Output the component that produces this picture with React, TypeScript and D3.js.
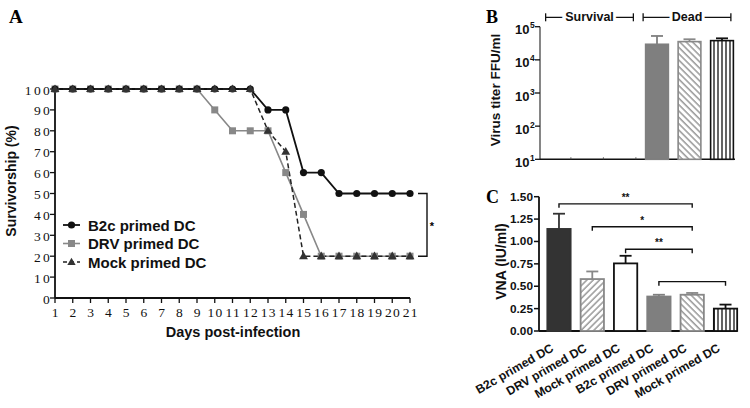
import React from 'react';
import * as d3 from 'd3';

// ---------- Panel A data ----------
const days = [1, 2, 3, 4, 5, 6, 7, 8, 9, 10, 11, 12, 13, 14, 15, 16, 17, 18, 19, 20, 21];
const b2c = [100, 100, 100, 100, 100, 100, 100, 100, 100, 100, 100, 100, 90, 90, 60, 60, 50, 50, 50, 50, 50];
const drv = [100, 100, 100, 100, 100, 100, 100, 100, 100, 90, 80, 80, 80, 60, 40, 20, 20, 20, 20, 20, 20];
const mock = [100, 100, 100, 100, 100, 100, 100, 100, 100, 100, 100, 100, 80, 70, 20, 20, 20, 20, 20, 20, 20];
const survTicks = [0, 10, 20, 30, 40, 50, 60, 70, 80, 90, 100];
const seriesNames = ['B2c primed DC', 'DRV primed DC', 'Mock primed DC'];
const survSig = { top: 50, bottom: 20, label: '*' };

// ---------- Panel B data ----------
const titerCats = ['S-B2c', 'S-DRV', 'S-Mock', 'D-B2c', 'D-DRV', 'D-Mock'];
const titerMean: (number | null)[] = [null, null, null, 29500, 35500, 38000];
const titerUpper: (number | null)[] = [null, null, null, 52500, 41800, 44600];
const titerTicks = [10, 100, 1000, 10000, 100000];
const titerExp = ['1', '2', '3', '4', '5'];
const titerGroups = [
  { label: 'Survival', first: 'S-B2c', last: 'S-Mock' },
  { label: 'Dead', first: 'D-B2c', last: 'D-Mock' },
];

// ---------- Panel C data ----------
const vnaCats = ['c1', 'c2', 'c3', 'c4', 'c5', 'c6'];
const vnaLabels = ['B2c primed DC', 'DRV primed DC', 'Mock primed DC', 'B2c primed DC', 'DRV primed DC', 'Mock primed DC'];
const vnaMean = [1.14, 0.58, 0.755, 0.385, 0.405, 0.25];
const vnaUpper = [1.31, 0.665, 0.84, 0.405, 0.425, 0.295];
const vnaTicks = [0, 0.25, 0.5, 0.75, 1.0, 1.25, 1.5];
const vnaSig = [
  { a: 0, b: 4, y: 1.42, label: '**' },
  { a: 1, b: 4, y: 1.165, label: '*' },
  { a: 2, b: 4, y: 0.913, label: '**' },
  { a: 3, b: 5, y: 0.551, label: '' },
];

const SANS = '"Liberation Sans", Arial, sans-serif';
const SERIF = '"Liberation Serif", "Times New Roman", serif';

type BarStyle = { fill: string; stroke: string; err: string };
const styleSolidDark: BarStyle = { fill: '#333', stroke: '#333', err: '#333' };
const styleSolidGray: BarStyle = { fill: '#7f7f7f', stroke: '#7f7f7f', err: '#7f7f7f' };
const styleHatchF: BarStyle = { fill: 'url(#hatchF)', stroke: '#888', err: '#888' };
const styleHatchB: BarStyle = { fill: 'url(#hatchB)', stroke: '#888', err: '#888' };
const styleWhite: BarStyle = { fill: '#fff', stroke: '#111', err: '#111' };
const styleStripes: BarStyle = { fill: 'url(#stripes)', stroke: '#111', err: '#111' };

export default function App() {
  // ---------- Panel A ----------
  const xA = d3.scaleLinear().domain([1, 21]).range([55, 410]);
  const yA = d3.scaleLinear().domain([0, 100]).range([298, 89]);
  const lineA = d3
    .line<number>()
    .x((_, i) => xA(days[i]))
    .y((d) => yA(d));
  const tri = d3.symbol().type(d3.symbolTriangle).size(34)() as string;
  const triLegend = d3.symbol().type(d3.symbolTriangle).size(30)() as string;

  // ---------- Panel B ----------
  const xB = d3.scaleBand<string>().domain(titerCats).range([540, 741.5]).paddingInner(0.3).paddingOuter(0.25);
  const yB = d3.scaleLog().domain([10, 100000]).range([159.3, 26.7]);
  const bwB = xB.bandwidth();
  const titerStyles = [styleSolidGray, styleHatchB, styleStripes];

  // ---------- Panel C ----------
  const xC = d3.scaleBand<string>().domain(vnaCats).range([539, 745.5]).paddingInner(0.3).paddingOuter(0.25);
  const yC = d3.scaleLinear().domain([0, 1.5]).range([331, 196.7]);
  const bwC = xC.bandwidth();
  const vnaStyles = [styleSolidDark, styleHatchF, styleWhite, styleSolidGray, styleHatchB, styleStripes];

  return (
    <svg
      width={750}
      height={408}
      style={{ position: 'absolute', left: 0, top: 0, background: '#fff' }}
      xmlns="http://www.w3.org/2000/svg"
    >
      <defs>
        <pattern id="hatchF" patternUnits="userSpaceOnUse" width={4.5} height={4.5} patternTransform="rotate(45)">
          <rect width={4.5} height={4.5} fill="#fff" />
          <line x1={1} y1={0} x2={1} y2={4.5} stroke="#888" strokeWidth={1.3} />
        </pattern>
        <pattern id="hatchB" patternUnits="userSpaceOnUse" width={4.5} height={4.5} patternTransform="rotate(-45)">
          <rect width={4.5} height={4.5} fill="#fff" />
          <line x1={1} y1={0} x2={1} y2={4.5} stroke="#888" strokeWidth={1.3} />
        </pattern>
        <pattern id="stripes" patternUnits="userSpaceOnUse" width={4} height={4}>
          <rect width={4} height={4} fill="#fff" />
          <line x1={2} y1={0} x2={2} y2={4} stroke="#111" strokeWidth={1.3} />
        </pattern>
      </defs>
      <rect width={750} height={408} fill="#fff" />

      {/* ================= Panel A ================= */}
      <text x={9} y={23} fontFamily={SERIF} fontWeight="bold" fontSize={19}>A</text>

      <line x1={xA(1)} x2={xA(21)} y1={yA(0)} y2={yA(0)} stroke="#111" strokeWidth={1.8} />
      <line x1={xA(1)} x2={xA(1)} y1={yA(0)} y2={yA(100)} stroke="#111" strokeWidth={1.8} />
      {survTicks.map((t) => (
        <g key={'ya' + t}>
          <line x1={xA(1) - 5} x2={xA(1)} y1={yA(t)} y2={yA(t)} stroke="#111" strokeWidth={1.3} />
          <text
            x={xA(1) - 3}
            y={yA(t) + 1}
            textAnchor="end"
            dominantBaseline="central"
            fontFamily={SERIF}
            fontSize={13.5}
            letterSpacing={2.3}
            fill="#111"
          >
            {t}
          </text>
        </g>
      ))}
      {days.map((d) => (
        <g key={'xa' + d}>
          <line x1={xA(d)} x2={xA(d)} y1={yA(0)} y2={yA(0) + 5} stroke="#111" strokeWidth={1.3} />
          <text
            x={xA(d) + 0.8}
            y={316.5}
            textAnchor="middle"
            fontFamily={SERIF}
            fontSize={13.5}
            letterSpacing={1.2}
            fill="#111"
          >
            {d}
          </text>
        </g>
      ))}
      <text x={233} y={337} textAnchor="middle" fontFamily={SANS} fontWeight="bold" fontSize={14.5} fill="#111">
        Days post-infection
      </text>
      <text
        transform={`translate(16,${181}) rotate(-90)`}
        textAnchor="middle"
        fontFamily={SANS}
        fontWeight="bold"
        fontSize={14}
        fill="#111"
      >
        Survivorship (%)
      </text>

      <path d={lineA(drv) as string} fill="none" stroke="#888" strokeWidth={1.6} />
      <path d={lineA(b2c) as string} fill="none" stroke="#111" strokeWidth={1.8} />
      <path d={lineA(mock) as string} fill="none" stroke="#222" strokeWidth={1.5} strokeDasharray="5,3" />
      {drv.map((v, i) => (
        <rect key={'sq' + i} x={xA(days[i]) - 3.5} y={yA(v) - 3.5} width={7} height={7} fill="#888" />
      ))}
      {b2c.map((v, i) => (
        <circle key={'ci' + i} cx={xA(days[i])} cy={yA(v)} r={3.6} fill="#111" />
      ))}
      {mock.map((v, i) => (
        <path key={'tr' + i} d={tri} transform={`translate(${xA(days[i])},${yA(v) + 0.5})`} fill="#333" />
      ))}

      <path
        d={`M${xA(21) + 8},${yA(survSig.top)} H${xA(21) + 17} V${yA(survSig.bottom)} H${xA(21) + 8}`}
        fill="none"
        stroke="#111"
        strokeWidth={1.4}
      />
      <text
        x={xA(21) + 22}
        y={yA((survSig.top + survSig.bottom) / 2) + 5}
        textAnchor="middle"
        fontFamily={SANS}
        fontWeight="bold"
        fontSize={11}
        fill="#000"
      >
        {survSig.label}
      </text>

      {seriesNames.map((name, i) => {
        const y = 225 + i * 18.5;
        return (
          <g key={'lg' + i}>
            {i === 0 && (
              <>
                <line x1={63} x2={80} y1={y} y2={y} stroke="#111" strokeWidth={1.8} />
                <circle cx={71.5} cy={y} r={3.6} fill="#111" />
              </>
            )}
            {i === 1 && (
              <>
                <line x1={63} x2={80} y1={y} y2={y} stroke="#888" strokeWidth={1.6} />
                <rect x={68} y={y - 3.5} width={7} height={7} fill="#888" />
              </>
            )}
            {i === 2 && (
              <>
                <line x1={63} x2={80} y1={y} y2={y} stroke="#222" strokeWidth={1.5} strokeDasharray="4,3" />
                <path d={triLegend} transform={`translate(71.5,${y + 0.5})`} fill="#333" />
              </>
            )}
            <text x={88} y={y} dominantBaseline="central" fontFamily={SANS} fontWeight="bold" fontSize={15} fill="#111">
              {name}
            </text>
          </g>
        );
      })}

      {/* ================= Panel B ================= */}
      <text x={486} y={23} fontFamily={SERIF} fontWeight="bold" fontSize={18}>B</text>
      <line x1={540} x2={540} y1={yB(10)} y2={yB(100000)} stroke="#444" strokeWidth={1.3} />
      <line x1={540} x2={735} y1={yB(10)} y2={yB(10)} stroke="#111" strokeWidth={1.6} />
      {titerTicks.map((t, i) => (
        <g key={'yb' + t}>
          <line x1={535} x2={540} y1={yB(t)} y2={yB(t)} stroke="#111" strokeWidth={1.3} />
          <text x={529.5} y={yB(t) + 3} textAnchor="end" dominantBaseline="central" fontFamily={SANS} fontWeight="bold" fontSize={13} fill="#111">
            10
          </text>
          <text x={530} y={yB(t) - 1.5} textAnchor="start" dominantBaseline="central" fontFamily={SANS} fontWeight="bold" fontSize={8.5} fill="#111">
            {titerExp[i]}
          </text>
        </g>
      ))}
      {titerCats.slice(0, 3).map((c) => (
        <line key={'tk' + c} x1={(xB(c) as number) + bwB} x2={(xB(c) as number) + bwB} y1={yB(10)} y2={yB(10) - 2} stroke="#555" strokeWidth={1} />
      ))}
      {titerCats.map((c, i) => {
        const v = titerMean[i];
        const u = titerUpper[i];
        if (v == null || u == null) return null;
        const s = titerStyles[i % 3];
        const x0 = xB(c) as number;
        const cx = x0 + bwB / 2;
        return (
          <g key={'bb' + c}>
            <line x1={cx} x2={cx} y1={yB(v)} y2={yB(u)} stroke={s.err} strokeWidth={1.8} />
            <line x1={cx - 6} x2={cx + 6} y1={yB(u)} y2={yB(u)} stroke={s.err} strokeWidth={1.8} />
            <rect x={x0} y={yB(v)} width={bwB} height={yB(10) - yB(v)} fill={s.fill} stroke={s.stroke} strokeWidth={1.6} />
          </g>
        );
      })}
      {titerGroups.map((g) => {
        const x1 = (xB(g.first) as number) - 2.5;
        const x2 = (xB(g.last) as number) + bwB - 2.5;
        const y = 17.3;
        return (
          <g key={'gr' + g.label}>
            <line x1={x1} x2={x2} y1={y} y2={y} stroke="#111" strokeWidth={1.3} />
            <line x1={x1} x2={x1} y1={y - 4} y2={y + 4} stroke="#111" strokeWidth={1.3} />
            <line x1={x2} x2={x2} y1={y - 4} y2={y + 4} stroke="#111" strokeWidth={1.3} />
            <text
              x={(x1 + x2) / 2}
              y={y}
              textAnchor="middle"
              dominantBaseline="central"
              fontFamily={SANS}
              fontWeight="bold"
              fontSize={12.5}
              fill="#111"
              stroke="#fff"
              strokeWidth={6}
              paintOrder="stroke"
            >
              {g.label}
            </text>
          </g>
        );
      })}
      <text
        transform={`translate(500,90) rotate(-90)`}
        textAnchor="middle"
        fontFamily={SANS}
        fontWeight="bold"
        fontSize={13.5}
        fill="#111"
      >
        Virus titer FFU/ml
      </text>

      {/* ================= Panel C ================= */}
      <text x={486} y={203} fontFamily={SERIF} fontWeight="bold" fontSize={18}>C</text>
      <line x1={539} x2={539} y1={yC(0)} y2={yC(1.5)} stroke="#111" strokeWidth={1.8} />
      <line x1={539} x2={737} y1={yC(0)} y2={yC(0)} stroke="#111" strokeWidth={1.8} />
      {vnaTicks.map((t) => (
        <g key={'yc' + t}>
          <line x1={534} x2={539} y1={yC(t)} y2={yC(t)} stroke="#111" strokeWidth={1.5} />
          <text x={533} y={yC(t)} textAnchor="end" dominantBaseline="central" fontFamily={SANS} fontWeight="bold" fontSize={11.8} fill="#111">
            {t.toFixed(2)}
          </text>
        </g>
      ))}
      {vnaCats.map((c, i) => {
        const s = vnaStyles[i];
        const x0 = xC(c) as number;
        const cx = x0 + bwC / 2;
        const v = vnaMean[i];
        const u = vnaUpper[i];
        return (
          <g key={'bc' + c}>
            <line x1={cx} x2={cx} y1={yC(v)} y2={yC(u)} stroke={s.err} strokeWidth={1.8} />
            <line x1={cx - 6} x2={cx + 6} y1={yC(u)} y2={yC(u)} stroke={s.err} strokeWidth={1.8} />
            <rect x={x0} y={yC(v)} width={bwC} height={yC(0) - yC(v)} fill={s.fill} stroke={s.stroke} strokeWidth={1.8} />
            <text
              transform={`translate(${cx - 4.6},350.5) rotate(-30)`}
              textAnchor="end"
              fontFamily={SANS}
              fontWeight="bold"
              fontSize={12.2}
              fill="#111"
            >
              {vnaLabels[i]}
            </text>
          </g>
        );
      })}
      {vnaSig.map((s, i) => {
        const xa = (xC(vnaCats[s.a]) as number) + bwC / 2;
        const xb = (xC(vnaCats[s.b]) as number) + bwC / 2;
        const y = yC(s.y);
        return (
          <g key={'sg' + i}>
            <path d={`M${xa},${y + 4} V${y} H${xb} V${y + 4}`} fill="none" stroke="#111" strokeWidth={1.4} />
            {s.label && (
              <text x={(xa + xb) / 2} y={y - 3} textAnchor="middle" fontFamily={SANS} fontWeight="bold" fontSize={10} fill="#111">
                {s.label}
              </text>
            )}
          </g>
        );
      })}
      <text
        transform={`translate(506,261.5) rotate(-90)`}
        textAnchor="middle"
        fontFamily={SANS}
        fontWeight="bold"
        fontSize={14}
        fill="#111"
      >
        VNA (IU/ml)
      </text>
    </svg>
  );
}
